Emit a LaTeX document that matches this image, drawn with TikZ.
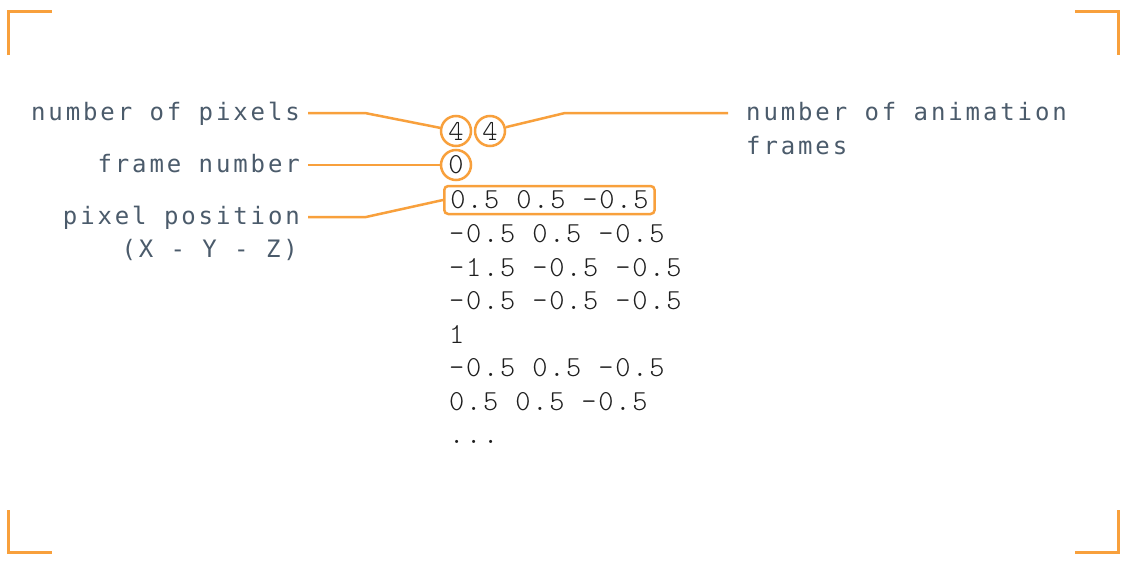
\documentclass[tikz,border=0pt]{standalone}
\usepackage{fontspec}
\newfontfamily\lblfont{DejaVu Sans Mono}[LetterSpace=12]
\newfontfamily\codefont{lmmonolt10-regular.otf}[LetterSpace=6]
\definecolor{accent}{RGB}{248,160,60}
\definecolor{lblcol}{RGB}{75,91,107}
\definecolor{codecol}{RGB}{30,30,30}
\tikzset{
  lbl/.style={inner sep=0pt, text=lblcol, font=\lblfont\fontsize{24}{28}\selectfont},
  code/.style={inner sep=0pt, anchor=base west, text=codecol, font=\codefont\fontsize{29}{33}\selectfont},
  ring/.style={circle, draw=accent, line width=2.5pt, minimum size=30pt, inner sep=0pt, text=codecol, font=\codefont\fontsize{29}{33}\selectfont},
  leader/.style={draw=accent, line width=2.5pt},
  bracket/.style={draw=accent, line width=3pt},
}
\begin{document}
\begin{tikzpicture}[x=1pt,y=-1pt]
\useasboundingbox[fill=white] (0,0) rectangle (1121,562);
% corner brackets
\draw[bracket] (8,55) -- (8,11) -- (52,11);
\draw[bracket] (1075,11) -- (1118,11) -- (1118,55);
\draw[bracket] (8,510) -- (8,552) -- (52,552);
\draw[bracket] (1075,552) -- (1118,552) -- (1118,510);
% labels
\node[lbl, anchor=base east] (npix) at (300,120) {number of pixels};
\node[lbl, anchor=base east] (fnum) at (300,172) {frame number};
\node[lbl, anchor=base east] (ppos) at (300,224) {pixel position};
\node[lbl, anchor=base east] (xyz) at (298,257) {(X - Y - Z)};
\node[lbl, anchor=base west] (anim) at (746,120) {number of animation};
\node[lbl, anchor=base west] (frames) at (746,154) {frames};
% circled values
\node[ring] (c1) at (456,131) {4};
\node[ring] (c2) at (490,131) {4};
\node[ring] (c3) at (456,165) {0};
% code lines
\node[code, draw=accent, line width=2.5pt, rounded corners=4pt, inner xsep=6pt, inner ysep=3pt, text height=19pt, text depth=3pt] (l1) at (443,208) {0.5 0.5 -0.5};
\node[code] (l2) at (449,242) {-0.5 0.5 -0.5};
\node[code] (l3) at (449,276) {-1.5 -0.5 -0.5};
\node[code] (l4) at (449,309) {-0.5 -0.5 -0.5};
\node[code] (l5) at (449,343) {1};
\node[code] (l6) at (449,376) {-0.5 0.5 -0.5};
\node[code] (l7) at (449,410) {0.5 0.5 -0.5};
\node[code] (l8) at (449,443) {...};
% connectors
\coordinate (k1) at (365,113);
\coordinate (k2) at (565,113);
\coordinate (k3) at (366,217);
\draw[leader] ([xshift=8pt,yshift=7pt]npix.base east) -- (k1) -- (c1);
\draw[leader] (c2) -- (k2) -- ([xshift=-18pt,yshift=7pt]anim.base west);
\draw[leader] ([xshift=8pt,yshift=7pt]fnum.base east) -- (c3);
\draw[leader] ([xshift=8pt,yshift=7pt]ppos.base east) -- (k3) -- (l1.west);
\end{tikzpicture}
\end{document}
